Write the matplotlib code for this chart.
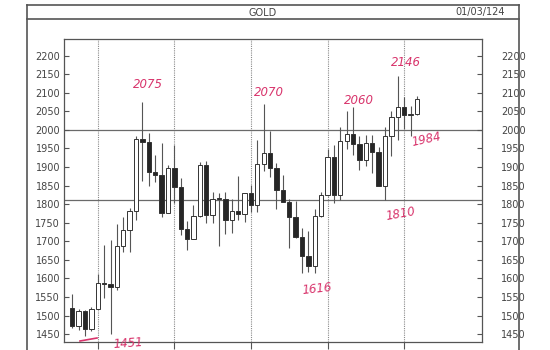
import matplotlib.pyplot as plt
from matplotlib.lines import Line2D

# monthly gold candles, Sep 2019 .. Mar 2024
opens = [1520, 1472, 1513, 1464, 1517, 1589, 1585, 1577, 1687, 1730, 1781, 1975,
         1968, 1886, 1879, 1777, 1898, 1847, 1734, 1707, 1769, 1906, 1770, 1814,
         1813, 1757, 1783, 1774, 1829, 1797, 1909, 1937, 1897, 1838, 1807, 1766,
         1711, 1661, 1633, 1768, 1824, 1928, 1826, 1969, 1990, 1963, 1919, 1965,
         1940, 1849, 1984, 2036, 2063, 2039, 2044]
highs = [1557, 1518, 1516, 1524, 1611, 1689, 1704, 1747, 1765, 1789, 1984, 2075,
         1992, 1933, 1966, 1906, 1959, 1871, 1755, 1797, 1913, 1917, 1832, 1831,
         1834, 1814, 1877, 1831, 1853, 1974, 2070, 1998, 1910, 1879, 1814, 1808,
         1735, 1729, 1786, 1833, 1949, 1960, 2009, 2050, 2062, 1983, 1987, 1987,
         1953, 2009, 2052, 2146, 2088, 2065, 2090]
lows = [1466, 1460, 1445, 1458, 1517, 1547, 1451, 1568, 1670, 1671, 1757, 1863,
        1849, 1860, 1765, 1775, 1803, 1717, 1677, 1707, 1765, 1750, 1750, 1688,
        1721, 1722, 1758, 1753, 1780, 1780, 1890, 1872, 1787, 1805, 1681, 1709,
        1615, 1617, 1616, 1765, 1823, 1804, 1810, 1949, 1932, 1893, 1903, 1884,
        1848, 1810, 1931, 1973, 2002, 1984, 2040]
closes = [1472, 1513, 1464, 1517, 1589, 1585, 1577, 1687, 1730, 1781, 1975, 1968,
          1886, 1879, 1777, 1898, 1847, 1734, 1707, 1769, 1906, 1770, 1814, 1813,
          1757, 1783, 1774, 1829, 1797, 1909, 1937, 1897, 1838, 1807, 1766, 1711,
          1661, 1633, 1768, 1824, 1928, 1826, 1969, 1990, 1963, 1919, 1965, 1940,
          1849, 1984, 2036, 2063, 2039, 2044, 2083]

year_starts = [4, 16, 28, 40, 52]   # January candles
levels = [2000, 1810]
yticks = list(range(1450, 2201, 50))

# handwritten notes: text, pixel x, pixel y, rotation
notes = [("2075", 148, 85, 0), ("2070", 269, 92, 0), ("2060", 359, 100, 0),
         ("2146", 406, 63, 0), ("1984", 426, 139, 12), ("1810", 401, 214, 10),
         ("1616", 317, 289, 6), ("1451", 128, 343, 4)]

W, H = 550, 350
fig = plt.figure(figsize=(5.5, 3.5), dpi=100)
ax = fig.add_axes([64.3 / W, 1 - 342 / H, (482 - 64.3) / W, (342 - 39.3) / H])

xs = list(range(len(opens)))
for i in xs:
    o, h, l, c = opens[i], highs[i], lows[i], closes[i]
    ax.vlines(i, l, h, color='#555555', lw=0.8, zorder=2)
    body = max(abs(c - o), 2.5)
    ax.bar(i, body, bottom=min(o, c), width=0.68,
           color='#262626' if c < o else 'white',
           edgecolor='#333333', lw=0.7, zorder=3)

for x in year_starts:
    ax.axvline(x, color='#8a8a8a', ls=(0, (1, 1)), lw=0.8, zorder=1.5)
for v in levels:
    ax.axhline(v, color='#6a6a6a', lw=0.9, zorder=1.5)

ax.set_xlim(-1.24, 64.2)
ax.set_ylim(1429, 2244)
ax.set_yticks(yticks)
ax.set_xticks(year_starts)
ax.set_xticklabels([])
ax.tick_params(axis='x', direction='out', length=5, color='#555555')
ax.tick_params(axis='y', direction='in', length=3.5, color='#555555',
               labelsize=7, labelcolor='#444444', left=True, right=True,
               labelleft=True, labelright=True, pad=3)
for lab in ax.get_yticklabels():
    lab.set_family(['Liberation Sans Narrow', 'DejaVu Sans'])
for t in ax.yaxis.get_major_ticks():
    t.label2.set_x(1 + 15 / 417.7)
    t.label2.set_family(['Liberation Sans Narrow', 'DejaVu Sans'])
for s in ax.spines.values():
    s.set_color('#555555')
    s.set_linewidth(0.9)


def px(x, y):
    return x / W, 1 - y / H


# page frame and header
frame = '#555555'
for (x0, y0), (x1, y1) in [((26.7, 5), (519, 5)), ((26.7, 19.3), (519, 19.3)),
                           ((26.7, 5), (26.7, 350)), ((519, 5), (519, 350))]:
    a, b = px(x0, y0)
    c, d = px(x1, y1)
    fig.add_artist(Line2D([a, c], [b, d], color=frame, lw=1.2))

fig.text(*px(263, 12.5), 'GOLD', ha='center', va='center', fontsize=7,
         color='#444444', family=['Liberation Sans Narrow', 'DejaVu Sans'])
fig.text(*px(505, 12.5), '01/03/124', ha='right', va='center', fontsize=7,
         color='#444444', family=['Liberation Sans Narrow', 'DejaVu Sans'])

red = '#d8336b'
for txt, x, y, r in notes:
    fig.text(*px(x, y), txt, ha='center', va='center', fontsize=8.5,
             color=red, rotation=r, style='italic')
a, b = px(80, 341)
c, d = px(97, 338)
fig.add_artist(Line2D([a, c], [b, d], color=red, lw=1.2))

fig.savefig('out.png', dpi=100, facecolor='white')
